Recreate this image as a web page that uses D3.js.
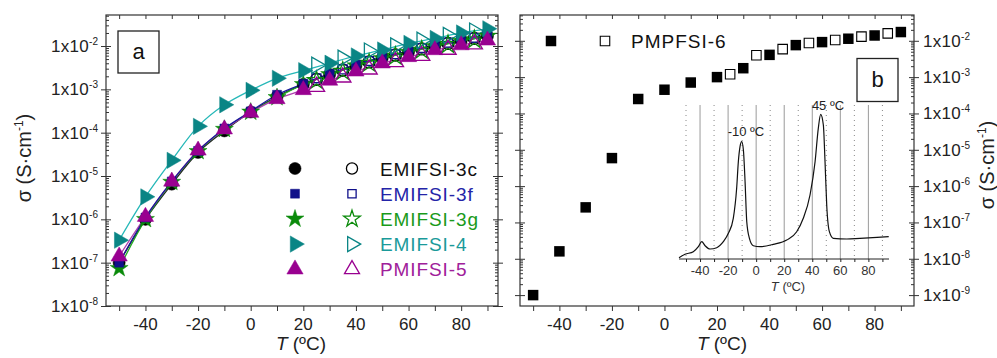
<!DOCTYPE html>
<html>
<head>
<meta charset="utf-8">
<script src="https://cdn.jsdelivr.net/npm/d3@7"></script>
<style>
  body { margin: 0; background: #fff; }
  svg text { font-family: "Liberation Sans", Arial, sans-serif; }
</style>
</head>
<body>
<script>
// ---- data, panel a ----
var tempsA = [-50, -40, -30, -20, -10, 0, 10, 20, 30, 40, 50, 60, 70, 80, 90];
var tempsAOpen = [25, 35, 45, 55, 65, 75, 85];

var emi3cFilled = [1.0e-7, 1.0e-6, 6.5e-6, 3.5e-5, 1.1e-4, 3.0e-4, 6.8e-4, 1.3e-3, 2.2e-3, 3.5e-3, 5.3e-3, 7.3e-3, 1.0e-2, 1.3e-2, 1.7e-2];
var emi3cOpen = [1.7e-3, 2.8e-3, 4.3e-3, 6.2e-3, 8.6e-3, 1.15e-2, 1.5e-2];
var emi3fFilled = [1.0e-7, 1.1e-6, 7.5e-6, 3.8e-5, 1.25e-4, 3.1e-4, 7.5e-4, 1.35e-3, 2.3e-3, 3.7e-3, 5.6e-3, 7.6e-3, 1.05e-2, 1.4e-2, 1.8e-2];
var emi3fOpen = [1.8e-3, 2.9e-3, 4.5e-3, 6.5e-3, 9.0e-3, 1.2e-2, 1.55e-2];
var emi3gFilled = [7.4e-8, 1.0e-6, 7.2e-6, 3.7e-5, 1.2e-4, 3.0e-4, 6.5e-4, 1.3e-3, 2.2e-3, 3.5e-3, 5.2e-3, 7.2e-3, 9.8e-3, 1.3e-2, 1.7e-2];
var emi3gOpen = [1.6e-3, 2.6e-3, 4.0e-3, 5.8e-3, 8.0e-3, 1.08e-2, 1.4e-2];
var emi4Filled = [3.3e-7, 3.3e-6, 2.3e-5, 1.4e-4, 4.4e-4, 9.5e-4, 1.8e-3, 2.7e-3, 4.0e-3, 5.9e-3, 8.1e-3, 1.15e-2, 1.5e-2, 2.0e-2, 2.5e-2];
var emi4Open = [3.6e-3, 5.2e-3, 7.6e-3, 1.0e-2, 1.35e-2, 1.75e-2, 2.2e-2];
var pmi5Filled = [1.4e-7, 1.15e-6, 7.5e-6, 3.9e-5, 1.2e-4, 2.9e-4, 6.0e-4, 9.7e-4, 1.6e-3, 2.6e-3, 4.0e-3, 5.6e-3, 8.1e-3, 1.05e-2, 1.35e-2];
var pmi5Open = [1.15e-3, 1.9e-3, 2.9e-3, 4.3e-3, 6.0e-3, 8.3e-3, 1.1e-2];

var seriesNames = ["EMIFSI-3c", "EMIFSI-3f", "EMIFSI-3g", "EMIFSI-4", "PMIFSI-5"];

// ---- data, panel b ----
var tempsB = [-50, -40, -30, -20, -10, 0, 10, 20, 30, 40, 50, 60, 70, 80, 90];
var pmpFilled = [1.0e-9, 1.6e-8, 2.6e-7, 5.9e-6, 2.5e-4, 4.5e-4, 7.1e-4, 1.0e-3, 1.76e-3, 4.1e-3, 7.6e-3, 9.2e-3, 1.14e-2, 1.4e-2, 1.74e-2];
var tempsBOpen = [25, 35, 45, 55, 65, 75, 85];
var pmpOpen = [1.2e-3, 4.0e-3, 5.9e-3, 8.7e-3, 1.05e-2, 1.3e-2, 1.6e-2];

// inset DSC trace (arbitrary heat-flow units)
var dscT = [-55, -50.7, -44.8, -41.2, -38.8, -36.4, -32.9, -28.1, -23.4, -19.8, -16.3, -13.9, -12.7, -11.5, -10.3, -9.1, -7.9, -6.7, -4.8, -2.0, 2.7, 12.2, 21.8, 28.9, 33.6, 38.4, 42, 44.3, 46, 47.9, 49.1, 50.3, 52.2, 55, 64.6, 74, 94.5];
var dscQ = [1.3, 4.7, 7.3, 12.3, 17.3, 13.3, 10, 11.3, 17.3, 25.7, 40.7, 70.7, 97.3, 112.3, 117.3, 109, 77.3, 37.3, 20.7, 13.3, 12.3, 14.7, 19, 27.3, 40.7, 64, 97.3, 130.7, 144.7, 134, 97.3, 54, 27.3, 20.7, 20, 20.7, 22.3];

var decadesA = [-8, -7, -6, -5, -4, -3, -2];
var decadesB = [-9, -8, -7, -6, -5, -4, -3, -2];
var xTickLabels = [-40, -20, 0, 20, 40, 60, 80];

// ---- setup ----
var svg = d3.select("body").append("svg")
  .attr("width", 997)
  .attr("height", 358);

var green = "#0a8a0a", teal = "#0a8585", navy = "#10108a", purple = "#990090";

var styles = [
  {sym: d3.symbolCircle, size: 115, color: "#000", text: "#111", line: "#222", rot: 0},
  {sym: d3.symbolSquare, size: 80, color: navy, text: "#2424a8", line: "#1a1a9a", rot: 0},
  {sym: d3.symbolStar, size: 100, color: green, text: "#1a9a1a", line: "#22aa22", rot: 0},
  {sym: d3.symbolTriangle, size: 115, color: teal, text: "#1a9a9a", line: "#26b8b8", rot: 90},
  {sym: d3.symbolTriangle, size: 115, color: purple, text: "#a0209a", line: "#b040b0", rot: 0}
];
var filledSets = [emi3cFilled, emi3fFilled, emi3gFilled, emi4Filled, pmi5Filled];
var openSets = [emi3cOpen, emi3fOpen, emi3gOpen, emi4Open, pmi5Open];

function minorVals(decs) {
  var out = [];
  decs.forEach(function(d) {
    for (var k = 2; k <= 9; k++) out.push(k * Math.pow(10, d));
  });
  out.push(Math.pow(10, decs[decs.length - 1] + 1));
  return out;
}

// generic frame with log y and linear x
function frame(x, y, decs, opts) {
  var x0 = x.range()[0], x1 = x.range()[1];
  var y0 = y.range()[0], y1 = y.range()[1];
  var g = svg.append("g").attr("class", "frame");

  var tens = d3.range(-50, 91, 10);
  // bottom ticks
  g.append("g").attr("transform", "translate(0," + y0 + ")")
    .call(d3.axisBottom(x).tickValues(tens).tickSize(5).tickSizeOuter(0).tickFormat(""));
  // top ticks (inward)
  g.append("g").attr("transform", "translate(0," + y1 + ")")
    .call(d3.axisBottom(x).tickValues(tens).tickSize(4).tickSizeOuter(0).tickFormat(""));

  var majors = decs.map(function(d) { return Math.pow(10, d); });
  var minors = minorVals(decs).filter(function(v) {
    return v >= y.domain()[0] && v <= y.domain()[1];
  });

  [x0, x1].forEach(function(xp, i) {
    var out = i === 0 ? d3.axisLeft : d3.axisRight;
    var inn = i === 0 ? d3.axisRight : d3.axisLeft;
    g.append("g").attr("transform", "translate(" + xp + ",0)")
      .call(out(y).tickValues(majors).tickSize(5).tickSizeOuter(0).tickFormat(""));
    g.append("g").attr("transform", "translate(" + xp + ",0)")
      .call(inn(y).tickValues(majors).tickSize(5).tickSizeOuter(0).tickFormat(""));
    g.append("g").attr("transform", "translate(" + xp + ",0)")
      .call(inn(y).tickValues(minors).tickSize(3).tickSizeOuter(0).tickFormat(""));
  });

  g.selectAll("path.domain").remove();
  g.selectAll("line").attr("stroke", "#333").attr("stroke-width", 1);

  g.append("rect")
    .attr("x", x0).attr("y", y1)
    .attr("width", x1 - x0).attr("height", y0 - y1)
    .attr("fill", "none").attr("stroke", "#333").attr("stroke-width", 1.2);

  // x tick labels
  g.selectAll("text.xl").data(xTickLabels).enter().append("text")
    .attr("x", function(d) { return x(d); })
    .attr("y", y0 + 24)
    .attr("text-anchor", "middle")
    .attr("font-size", 17)
    .attr("fill", "#222")
    .text(function(d) { return d; });

  // y tick labels 1x10^n
  var lx = opts.labelSide === "left" ? x0 - 8 : x1 + 9;
  decs.forEach(function(d) {
    var t = g.append("text")
      .attr("x", lx)
      .attr("y", y(Math.pow(10, d)) + 6)
      .attr("font-size", 17)
      .attr("letter-spacing", 0.3)
      .attr("fill", "#222")
      .attr("text-anchor", opts.labelSide === "left" ? "end" : "start");
    t.append("tspan").text("1x10");
    t.append("tspan").attr("dy", -7).attr("font-size", 10).attr("letter-spacing", 0).text(String(d));
  });

  // x title
  var xt = g.append("text")
    .attr("x", opts.xTitleX)
    .attr("y", 350)
    .attr("font-size", 19)
    .attr("fill", "#222")
    .attr("text-anchor", "middle");
  xt.append("tspan").attr("font-style", "italic").text("T");
  xt.append("tspan").text(opts.xTitleGap + "(ºC)");

  // y title
  var yt = g.append("text")
    .attr("transform", "translate(" + opts.yTitleX + "," + opts.yTitleY + ") rotate(-90)")
    .attr("font-size", 20)
    .attr("fill", "#222")
    .attr("text-anchor", "middle");
  yt.append("tspan").text("σ  (S·cm");
  yt.append("tspan").attr("dy", -8).attr("font-size", 12).text("-1");
  yt.append("tspan").attr("dy", 8).text(")");
  return g;
}

// ================= panel a =================
var xa = d3.scaleLinear().domain([-55, 94]).range([106, 498]);
var ya = d3.scaleLog().domain([1e-8, Math.pow(10, -1.284)]).range([306, 15]);

frame(xa, ya, decadesA, {labelSide: "left", xTitleX: 301, xTitleGap: " ", yTitleX: 31, yTitleY: 158});

var lineA = d3.line()
  .x(function(d) { return xa(d[0]); })
  .y(function(d) { return ya(d[1]); })
  .curve(d3.curveCatmullRom);

var plotA = svg.append("g");
[0, 2, 4, 1, 3].forEach(function(i) {
  var pts = tempsA.map(function(t, j) { return [t, filledSets[i][j]]; });
  plotA.append("path")
    .datum(pts)
    .attr("d", lineA)
    .attr("fill", "none")
    .attr("stroke", styles[i].line)
    .attr("stroke-width", 1.3);
});

function marker(g, st, x, y, filled, scale) {
  g.append("path")
    .attr("d", d3.symbol().type(st.sym).size(st.size * (scale || 1))())
    .attr("transform", "translate(" + x + "," + y + ") rotate(" + st.rot + ")")
    .attr("fill", filled ? st.color : "none")
    .attr("stroke", st.color)
    .attr("stroke-width", filled ? 0.5 : 1.3);
}

[0, 1, 2, 3, 4].forEach(function(i) {
  tempsAOpen.forEach(function(t, j) {
    marker(plotA, styles[i], xa(t), ya(openSets[i][j]), false);
  });
});
[0, 2, 1, 3, 4].forEach(function(i) {
  tempsA.forEach(function(t, j) {
    marker(plotA, styles[i], xa(t), ya(filledSets[i][j]), true);
  });
});

// legend a
var legA = svg.append("g");
seriesNames.forEach(function(name, i) {
  var ly = 168.5 + i * 25.2;
  marker(legA, styles[i], 295, ly, true);
  marker(legA, styles[i], 352, ly, false, 0.85);
  legA.append("text")
    .attr("x", 380).attr("y", ly + 7)
    .attr("font-size", 19)
    .attr("letter-spacing", 0.9)
    .attr("fill", styles[i].text)
    .text(name);
});

// "a" box
svg.append("rect").attr("x", 118).attr("y", 31).attr("width", 41).attr("height", 42)
  .attr("fill", "#fff").attr("stroke", "#222").attr("stroke-width", 1.3);
svg.append("text").attr("x", 138.5).attr("y", 59).attr("text-anchor", "middle")
  .attr("font-size", 22).attr("fill", "#111").text("a");

// ================= panel b =================
var xb = d3.scaleLinear().domain([-55, 95]).range([520, 914]);
var yb = d3.scaleLog().domain([Math.pow(10, -9.3), Math.pow(10, -1.29)]).range([306, 15]);

frame(xb, yb, decadesB, {labelSide: "right", xTitleX: 722, xTitleGap: "  ", yTitleX: 994, yTitleY: 165});

var plotB = svg.append("g");
var sq = d3.symbol().type(d3.symbolSquare).size(110);
plotB.selectAll("path.f").data(tempsB).enter().append("path")
  .attr("d", sq)
  .attr("transform", function(d, j) { return "translate(" + xb(d) + "," + yb(pmpFilled[j]) + ")"; })
  .attr("fill", "#000");
plotB.selectAll("path.o").data(tempsBOpen).enter().append("path")
  .attr("d", d3.symbol().type(d3.symbolSquare).size(90))
  .attr("transform", function(d, j) { return "translate(" + xb(d) + "," + yb(pmpOpen[j]) + ")"; })
  .attr("fill", "#fff").attr("stroke", "#000").attr("stroke-width", 1.1);

// legend b
svg.append("path").attr("d", sq).attr("transform", "translate(551,41)").attr("fill", "#000");
svg.append("path").attr("d", d3.symbol().type(d3.symbolSquare).size(90))
  .attr("transform", "translate(605,41)").attr("fill", "#fff").attr("stroke", "#000").attr("stroke-width", 1.1);
svg.append("text").attr("x", 631).attr("y", 48).attr("font-size", 19)
  .attr("letter-spacing", 1).attr("fill", "#111").text("PMPFSI-6");

// "b" box
svg.append("rect").attr("x", 857).attr("y", 58.5).attr("width", 41).attr("height", 43)
  .attr("fill", "#fff").attr("stroke", "#222").attr("stroke-width", 1.3);
svg.append("text").attr("x", 877.5).attr("y", 87).attr("text-anchor", "middle")
  .attr("font-size", 22).attr("fill", "#111").text("b");

// ---- inset DSC ----
var xi = d3.scaleLinear().domain([-55, 94.7]).range([679, 889]);
var yi = d3.scaleLinear().domain([0, 154]).range([259, 105]);
var inset = svg.append("g");

var solidGrid = [-40, -20, 0, 20, 40, 60, 80];
var dotGrid = [-50, -30, -10, 10, 30, 50, 70, 90];
inset.selectAll("line.gs").data(solidGrid).enter().append("line")
  .attr("x1", function(d) { return xi(d); }).attr("x2", function(d) { return xi(d); })
  .attr("y1", 105).attr("y2", 259)
  .attr("stroke", "#9a9a9a").attr("stroke-width", 1);
inset.selectAll("line.gd").data(dotGrid).enter().append("line")
  .attr("x1", function(d) { return xi(d); }).attr("x2", function(d) { return xi(d); })
  .attr("y1", 105).attr("y2", 259)
  .attr("stroke", "#888").attr("stroke-width", 1).attr("stroke-dasharray", "1,4");

var ax = inset.append("g").attr("transform", "translate(0,259)")
  .call(d3.axisBottom(xi).tickValues(d3.range(-50, 91, 10)).tickSize(3).tickSizeOuter(0).tickFormat(""));
ax.select("path.domain").attr("stroke", "#222").attr("d", "M679,0H889");
ax.selectAll("line").attr("stroke", "#222");

inset.selectAll("text.il").data(xTickLabels).enter().append("text")
  .attr("x", function(d) { return xi(d); })
  .attr("y", 275)
  .attr("text-anchor", "middle")
  .attr("font-size", 13)
  .attr("fill", "#333")
  .text(function(d) { return d; });
var it = inset.append("text").attr("x", 788).attr("y", 291).attr("text-anchor", "middle")
  .attr("font-size", 13).attr("fill", "#333");
it.append("tspan").attr("font-style", "italic").text("T");
it.append("tspan").text("  (ºC)");

var dscPts = dscT.map(function(t, j) { return [t, dscQ[j]]; });
inset.append("path").datum(dscPts)
  .attr("d", d3.line()
    .x(function(d) { return xi(d[0]); })
    .y(function(d) { return yi(d[1]); })
    .curve(d3.curveMonotoneX))
  .attr("fill", "none").attr("stroke", "#111").attr("stroke-width", 1.2);

inset.append("text").attr("x", 746).attr("y", 136).attr("text-anchor", "middle")
  .attr("font-size", 13).attr("fill", "#222").text("-10 ºC");
inset.append("text").attr("x", 828).attr("y", 110).attr("text-anchor", "middle")
  .attr("font-size", 13).attr("fill", "#222").text("45 ºC");
</script>
</body>
</html>
